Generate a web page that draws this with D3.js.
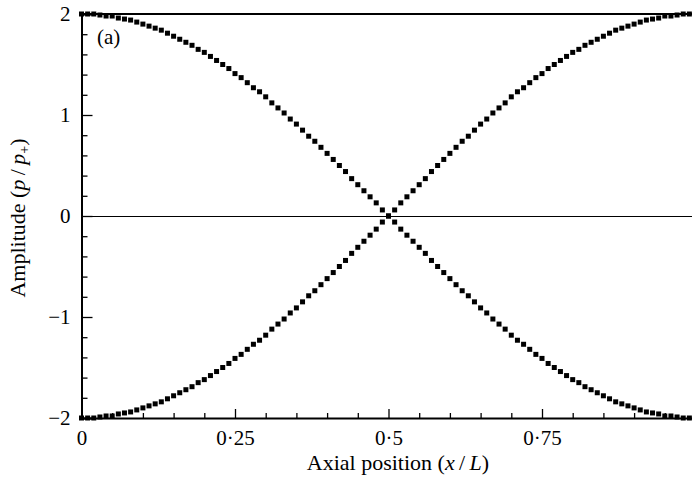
<!DOCTYPE html>
<html><head><meta charset="utf-8">
<script src="https://cdn.jsdelivr.net/npm/d3@7"></script>
<style>
html,body{margin:0;padding:0;background:#fff;}
svg{display:block;font-family:"Liberation Serif","Times New Roman",serif;}
</style></head>
<body>
<svg id="chart" width="692" height="484"></svg>
<script>
const xPositions = [0.00,0.01,0.02,0.03,0.04,0.05,0.06,0.07,0.08,0.09,0.10,0.11,0.12,0.13,0.14,0.15,0.16,0.17,0.18,0.19,0.20,0.21,0.22,0.23,0.24,0.25,0.26,0.27,0.28,0.29,0.30,0.31,0.32,0.33,0.34,0.35,0.36,0.37,0.38,0.39,0.40,0.41,0.42,0.43,0.44,0.45,0.46,0.47,0.48,0.49,0.50,0.51,0.52,0.53,0.54,0.55,0.56,0.57,0.58,0.59,0.60,0.61,0.62,0.63,0.64,0.65,0.66,0.67,0.68,0.69,0.70,0.71,0.72,0.73,0.74,0.75,0.76,0.77,0.78,0.79,0.80,0.81,0.82,0.83,0.84,0.85,0.86,0.87,0.88,0.89,0.90,0.91,0.92,0.93,0.94,0.95,0.96,0.97,0.98,0.99,1.00];
const seriesDown = [2.00,2.00,2.00,1.99,1.98,1.98,1.96,1.95,1.94,1.92,1.90,1.88,1.86,1.84,1.81,1.78,1.75,1.72,1.69,1.65,1.62,1.58,1.54,1.50,1.46,1.41,1.37,1.32,1.27,1.23,1.18,1.12,1.07,1.02,0.96,0.91,0.85,0.79,0.74,0.68,0.62,0.56,0.50,0.44,0.37,0.31,0.25,0.19,0.13,0.06,0.00,-0.06,-0.13,-0.19,-0.25,-0.31,-0.37,-0.44,-0.50,-0.56,-0.62,-0.68,-0.74,-0.79,-0.85,-0.91,-0.96,-1.02,-1.07,-1.12,-1.18,-1.23,-1.27,-1.32,-1.37,-1.41,-1.46,-1.50,-1.54,-1.58,-1.62,-1.65,-1.69,-1.72,-1.75,-1.78,-1.81,-1.84,-1.86,-1.88,-1.90,-1.92,-1.94,-1.95,-1.96,-1.98,-1.98,-1.99,-2.00,-2.00,-2.00];
const seriesUp = [-2.00,-2.00,-2.00,-1.99,-1.98,-1.98,-1.96,-1.95,-1.94,-1.92,-1.90,-1.88,-1.86,-1.84,-1.81,-1.78,-1.75,-1.72,-1.69,-1.65,-1.62,-1.58,-1.54,-1.50,-1.46,-1.41,-1.37,-1.32,-1.27,-1.23,-1.18,-1.12,-1.07,-1.02,-0.96,-0.91,-0.85,-0.79,-0.74,-0.68,-0.62,-0.56,-0.50,-0.44,-0.37,-0.31,-0.25,-0.19,-0.13,-0.06,0.00,0.06,0.13,0.19,0.25,0.31,0.37,0.44,0.50,0.56,0.62,0.68,0.74,0.79,0.85,0.91,0.96,1.02,1.07,1.12,1.18,1.23,1.27,1.32,1.37,1.41,1.46,1.50,1.54,1.58,1.62,1.65,1.69,1.72,1.75,1.78,1.81,1.84,1.86,1.88,1.90,1.92,1.94,1.95,1.96,1.98,1.98,1.99,2.00,2.00,2.00];
const xMajorTicks = [0, 0.25, 0.5, 0.75];
const xMajorLabels = ["0", "0\u00B725", "0\u00B75", "0\u00B775"];
const xMinorTicks = [0.05,0.10,0.15,0.20,0.30,0.35,0.40,0.45,0.55,0.60,0.65,0.70,0.80,0.85,0.90,0.95];
const yMajorTicks = [-2, -1, 0, 1, 2];
const yMajorLabels = ["\u22122", "\u22121", "0", "1", "2"];
const yMinorTicks = [-1.8,-1.6,-1.4,-1.2,-0.8,-0.6,-0.4,-0.2,0.2,0.4,0.6,0.8,1.2,1.4,1.6,1.8];

const svg = d3.select("#chart");
const plotLeft = 81.5, plotTop = 14, plotBottom = 418, plotRight = 695.5;
const x = d3.scaleLinear().domain([0, 1]).range([plotLeft, plotRight]);
const y = d3.scaleLinear().domain([-2, 2]).range([plotBottom, plotTop]);

// zero line and top line
svg.append("line").attr("x1", plotLeft).attr("x2", 692).attr("y1", y(0) + 0.5).attr("y2", y(0) + 0.5)
  .attr("stroke", "#000").attr("stroke-width", 1);
svg.append("line").attr("x1", plotLeft).attr("x2", 692).attr("y1", y(2)).attr("y2", y(2))
  .attr("stroke", "#000").attr("stroke-width", 2);

// markers
const ms = 5;
function drawSeries(vals) {
  svg.append("g").selectAll("rect").data(vals).join("rect")
    .attr("x", (d, i) => x(xPositions[i]) - ms / 2)
    .attr("y", d => y(d) - ms / 2)
    .attr("width", ms).attr("height", ms)
    .attr("fill", "#000");
}
drawSeries(seriesDown);
drawSeries(seriesUp);

// Y axis
const yAxisMajor = d3.axisLeft(y).tickValues(yMajorTicks).tickSize(-11).tickPadding(11)
  .tickFormat(d => yMajorLabels[yMajorTicks.indexOf(d)]);
const yAxisMinor = d3.axisLeft(y).tickValues(yMinorTicks).tickSize(-6).tickFormat("");
const gy = svg.append("g").attr("transform", `translate(${plotLeft},0)`).call(yAxisMajor);
svg.append("g").attr("transform", `translate(${plotLeft},0)`).call(yAxisMinor)
  .call(g => g.select(".domain").remove());
gy.select(".domain").attr("stroke-width", 2);

// X axis
const xAxisMajor = d3.axisBottom(x).tickValues(xMajorTicks).tickSize(-9).tickPadding(12)
  .tickFormat(d => xMajorLabels[xMajorTicks.indexOf(d)]);
const xAxisMinor = d3.axisBottom(x).tickValues(xMinorTicks).tickSize(-5).tickFormat("");
const gx = svg.append("g").attr("transform", `translate(0,${plotBottom})`).call(xAxisMajor);
svg.append("g").attr("transform", `translate(0,${plotBottom})`).call(xAxisMinor)
  .call(g => g.select(".domain").remove());
gx.select(".domain").attr("stroke-width", 2);

svg.selectAll(".tick line").attr("stroke", "#000").attr("stroke-width", 1.3);
svg.selectAll(".tick text").attr("font-family", "'Liberation Serif','Times New Roman',serif")
  .attr("font-size", 21).attr("fill", "#000");

// axis titles
const xt = svg.append("text").attr("x", 398).attr("y", 470).attr("text-anchor", "middle")
  .attr("font-size", 22).attr("fill", "#000");
xt.append("tspan").text("Axial position (");
xt.append("tspan").attr("font-style", "italic").text("x");
xt.append("tspan").text("\u2009/\u2009");
xt.append("tspan").attr("font-style", "italic").text("L");
xt.append("tspan").text(")");

const yt = svg.append("text").attr("transform", "translate(25,218) rotate(-90)")
  .attr("text-anchor", "middle").attr("font-size", 22).attr("fill", "#000");
yt.append("tspan").text("Amplitude (");
yt.append("tspan").attr("font-style", "italic").text("p");
yt.append("tspan").text("\u2009/\u2009");
yt.append("tspan").attr("font-style", "italic").text("p");
yt.append("tspan").attr("font-size", 14).attr("dy", 4).text("+");
yt.append("tspan").attr("dy", -4).text(")");

svg.append("text").attr("x", 97).attr("y", 44).attr("font-size", 21).attr("fill", "#000").text("(a)");
</script>
</body></html>
